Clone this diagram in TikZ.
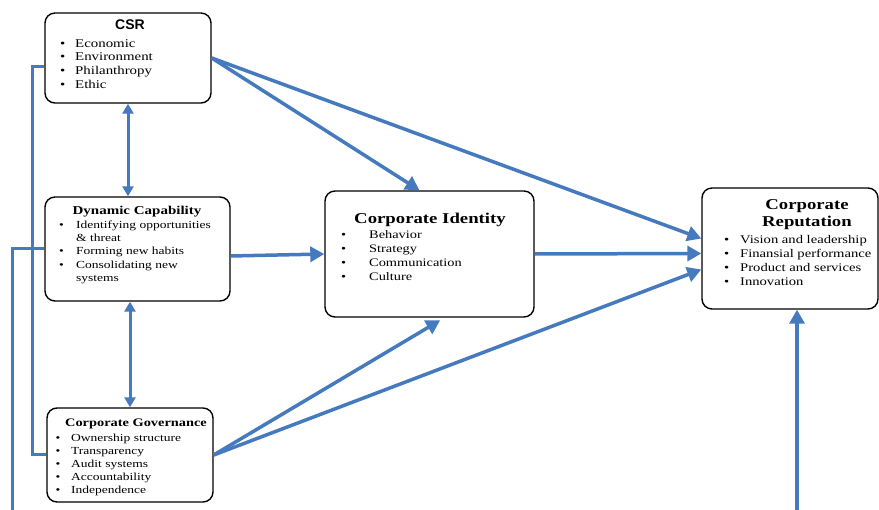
\documentclass[tikz,border=0pt]{standalone}
\usepackage{fontspec}
\setmainfont{Liberation Serif}[FakeStretch=1.25]
\newfontfamily\csrfont{Liberation Sans}
\usetikzlibrary{arrows.meta}
\definecolor{linkblue}{RGB}{70,122,190}
\newcommand{\bl}[1][15pt]{\makebox[#1][l]{\textbullet}}

\begin{document}
\begin{tikzpicture}[x=1pt,y=-1pt]
\tikzstyle{box}=[draw=black,line width=1.4pt,rounded corners=10pt,inner sep=0pt]
\tikzstyle{title}=[inner sep=0pt,anchor=base]
\tikzstyle{list}=[inner sep=0pt,anchor=north west,align=left]
\tikzstyle{link}=[draw=linkblue,line width=3.5pt]
\tikzstyle{arr}=[link,-{Triangle[length=14pt,width=15pt]}]
\tikzstyle{dblarr}=[draw=linkblue,line width=3pt,{Triangle[length=10pt,width=11pt]}-{Triangle[length=10pt,width=11pt]}]

\useasboundingbox (0,0) rectangle (879,510);

\node [box] (csr) at (128,58) [minimum width=166pt,minimum height=90pt] {};
\node [box] (dynamic) at (137.5,249) [minimum width=185pt,minimum height=104pt] {};
\node [box] (governance) at (130,455) [minimum width=166pt,minimum height=94pt] {};
\node [box] (identity) at (429.5,254) [minimum width=209pt,minimum height=126pt] {};
\node [box] (reputation) at (790,248.5) [minimum width=176pt,minimum height=121pt] {};

\node [title,font=\csrfont\bfseries\fontsize{14}{16}\selectfont] (csrtitle) at (130,30) {CSR};
\node [list,font=\fontsize{11.9}{13.7}\selectfont] (csrlist) at (60,39)
  {\bl Economic\\ \bl Environment\\ \bl Philanthropy\\ \bl Ethic};

\node [title,font=\bfseries\fontsize{12}{13}\selectfont] (dyntitle) at (137,215) {Dynamic Capability};
\node [list,font=\fontsize{10.8}{13.3}\selectfont] (dynlist) at (59,220.5)
  {\bl[17pt]Identifying opportunities\\ \hspace*{17pt}\& threat\\ \bl[17pt]Forming new habits\\
   \bl[17pt]Consolidating new\\ \hspace*{17pt}systems};

\node [title,font=\bfseries\fontsize{11.5}{13}\selectfont] (govtitle) at (136,427) {Corporate Governance};
\node [list,font=\fontsize{10.8}{13}\selectfont] (govlist) at (55.5,433.5)
  {\bl[15.5pt]Ownership structure\\ \bl[15.5pt]Transparency\\ \bl[15.5pt]Audit systems\\
   \bl[15.5pt]Accountability\\ \bl[15.5pt]Independence};

\node [title,font=\bfseries\fontsize{15}{17}\selectfont] (idtitle) at (430,224) {Corporate Identity};
\node [list,font=\fontsize{11.5}{14}\selectfont] (idlist) at (341,230.5)
  {\bl[28pt]Behavior\\ \bl[28pt]Strategy\\ \bl[28pt]Communication\\ \bl[28pt]Culture};

\node [title,anchor=north,align=center,font=\bfseries\fontsize{15}{17}\selectfont] (reptitle) at (807,199)
  {Corporate\\ Reputation};
\node [list,font=\fontsize{11.7}{14}\selectfont] (replist) at (724,235.5)
  {\bl[16pt]Vision and leadership\\ \bl[16pt]Finansial performance\\ \bl[16pt]Product and services\\
   \bl[16pt]Innovation};

% links between the boxes
\draw [dblarr] (csr.south) -- (csr.south |- dynamic.north);
\draw [dblarr] (governance.north |- dynamic.south) -- (governance.north);
\draw [arr] (csr.east) -- ([xshift=-10pt]identity.north);
\draw [arr] (csr.east) -- ([yshift=10pt]reputation.west);
\draw [arr] ([yshift=-7pt]dynamic.east) -- (identity.west);
\draw [arr] (identity.east) -- ([yshift=-5pt]reputation.west);
\draw [arr,shorten >=5pt] (governance.east) -- ([xshift=15pt]identity.south);
\draw [arr] (governance.east) -- ([yshift=-21pt]reputation.west);

% feedback lines
\coordinate (feedl) at (12,510);
\coordinate (feedr) at (797,510);
\draw [link,line width=3pt] ([yshift=-9pt]csr.west) -- ++(-12,0) |- (governance.west);
\draw [link,line width=3pt] (dynamic.west) -| (feedl);
\draw [arr] (feedr) -- (feedr |- reputation.south);
\end{tikzpicture}
\end{document}
